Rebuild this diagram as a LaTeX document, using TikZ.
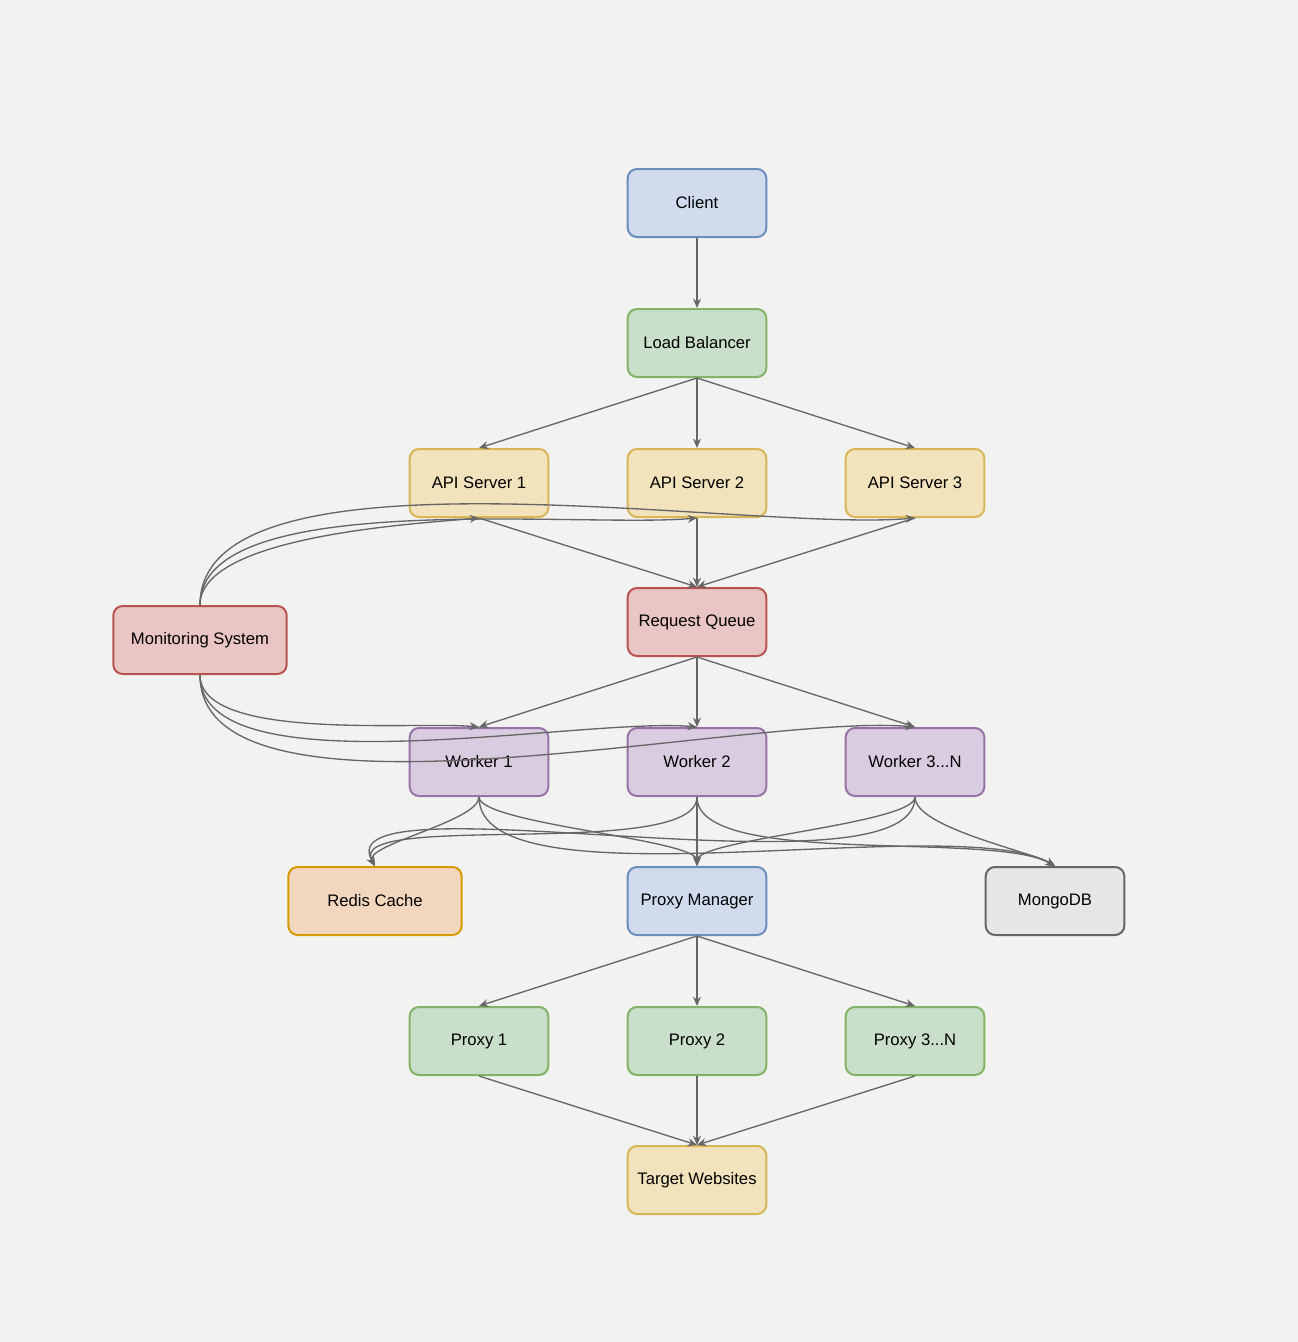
\documentclass[tikz,border=0pt]{standalone}
\usepackage{fontspec}
\setmainfont{Liberation Sans}
\usetikzlibrary{arrows.meta}
\definecolor{bgc}{HTML}{F2F2F1}
\definecolor{edgec}{HTML}{666666}
\definecolor{bluef}{HTML}{D0DCEE}\definecolor{blued}{HTML}{6C8EBF}
\definecolor{greenf}{HTML}{CADFCA}\definecolor{greend}{HTML}{82B366}
\definecolor{yellowf}{HTML}{F2E3BC}\definecolor{yellowd}{HTML}{D6B656}
\definecolor{redf}{HTML}{E9C5C4}\definecolor{redd}{HTML}{B85450}
\definecolor{purplef}{HTML}{D9CCE0}\definecolor{purpled}{HTML}{9673A6}
\definecolor{orangef}{HTML}{F2D6BD}\definecolor{oranged}{HTML}{D79B00}
\definecolor{grayf}{HTML}{E6E6E6}\definecolor{grayd}{HTML}{666666}
\tikzset{
  box/.style={draw, rounded corners=7pt, line width=1.5pt, minimum width=104pt,
    minimum height=51pt, inner sep=0pt, font=\fontsize{12.5}{14}\selectfont},
  bluebox/.style={box, fill=bluef, draw=blued},
  greenbox/.style={box, fill=greenf, draw=greend},
  yellowbox/.style={box, fill=yellowf, draw=yellowd},
  redbox/.style={box, fill=redf, draw=redd},
  purplebox/.style={box, fill=purplef, draw=purpled},
  orangebox/.style={box, fill=orangef, draw=oranged},
  graybox/.style={box, fill=grayf, draw=grayd},
  link/.style={draw=edgec, line width=1pt, -{Stealth[length=7pt,width=6pt]}}
}
\begin{document}
\begin{tikzpicture}[x=0.75pt,y=-0.75pt]
  \fill[bgc] (0,0) rectangle (1298,1342);
  \useasboundingbox (0,0) rectangle (1298,1342);

  \node[bluebox] (client) at (697,203) {Client};
  \node[greenbox] (lb) at (697,343) {Load Balancer};

  \node[yellowbox] (api1) at (479,483) {API Server 1};
  \node[yellowbox] (api2) at (697,483) {API Server 2};
  \node[yellowbox] (api3) at (915,483) {API Server 3};

  \node[redbox, minimum width=130pt] (mon) at (200,640) {Monitoring System};
  \node[redbox] (queue) at (697,622) {Request Queue};

  \node[purplebox] (w1) at (479,762) {Worker 1};
  \node[purplebox] (w2) at (697,762) {Worker 2};
  \node[purplebox] (w3) at (915,762) {Worker 3...N};

  \node[orangebox, minimum width=130pt] (redis) at (375,901) {Redis Cache};
  \node[bluebox] (pm) at (697,901) {Proxy Manager};
  \node[graybox] (mongo) at (1055,901) {MongoDB};

  \node[greenbox] (p1) at (479,1041) {Proxy 1};
  \node[greenbox] (p2) at (697,1041) {Proxy 2};
  \node[greenbox] (p3) at (915,1041) {Proxy 3...N};

  \node[yellowbox] (web) at (697,1180) {Target Websites};

  % main flow
  \draw[link] (client) -- (lb);
  \foreach \n in {api1,api2,api3} \draw[link] (lb.south) -- (\n.north);
  \foreach \n in {api1,api2,api3} \draw[link] (\n.south) -- (queue.north);
  \foreach \n in {w1,w2,w3} \draw[link] (queue.south) -- (\n.north);
  \foreach \n in {w1,w2,w3} {
    \draw[link] (\n.south) to[out=-90,in=120,looseness=0.5] (redis.north);
    \draw[link] (\n.south) to[out=-90,in=90,looseness=0.3] (pm.north);
    \draw[link] (\n.south) to[out=-90,in=150,looseness=0.5] (mongo.north);
  }
  \foreach \n in {p1,p2,p3} \draw[link] (pm.south) -- (\n.north);
  \foreach \n in {p1,p2,p3} \draw[link] (\n.south) -- (web.north);

  % monitoring
  \foreach \n in {api1,api2,api3}
    \draw[link] (mon.north) to[out=90,in=185,looseness=0.6] (\n.south);
  \foreach \n in {w1,w2,w3}
    \draw[link] (mon.south) to[out=-90,in=175,looseness=0.6] (\n.north);
\end{tikzpicture}
\end{document}
